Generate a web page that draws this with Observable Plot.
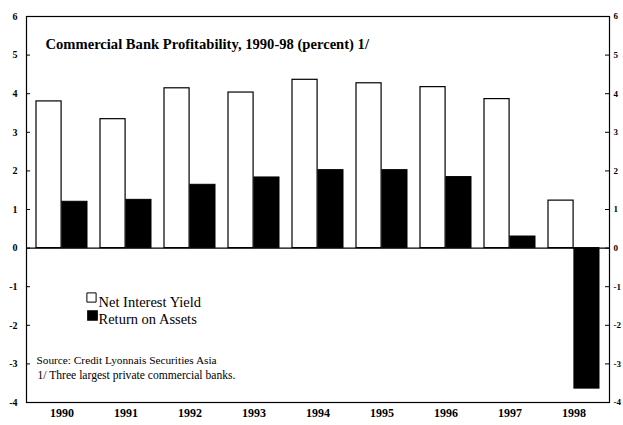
<!DOCTYPE html>
<html>
<head>
<meta charset="utf-8">
<script src="https://cdn.jsdelivr.net/npm/d3@7"></script>
<script src="https://cdn.jsdelivr.net/npm/@observablehq/plot@0.6"></script>
<style>
  html, body { margin: 0; padding: 0; background: white; overflow: hidden; }
</style>
</head>
<body>
<div id="chart"></div>
<script>
const years = ["1990", "1991", "1992", "1993", "1994", "1995", "1996", "1997", "1998"];
const netInterestYield = [3.8, 3.34, 4.14, 4.03, 4.36, 4.27, 4.17, 3.86, 1.23];
const returnOnAssets = [1.2, 1.25, 1.64, 1.83, 2.02, 2.02, 1.84, 0.3, -3.64];
const yTicks = [-4, -3, -2, -1, 0, 1, 2, 3, 4, 5, 6];
const seriesNames = ["Net Interest Yield", "Return on Assets"];
const titleText = "Commercial Bank Profitability, 1990-98 (percent) 1/";
const notes = ["Source: Credit Lyonnais Securities Asia", "1/ Three largest private commercial banks."];

const niy = years.map((year, i) => ({year, value: netInterestYield[i]}));
const roa = years.map((year, i) => ({year, value: returnOnAssets[i]}));

const font = "'Liberation Serif', 'Times New Roman', serif";
const mL = 26, mR = 14;
const plotW = 623 - mL - mR;
const half = plotW / 9 * 0.4;

const chart = Plot.plot({
  width: 623,
  height: 425,
  marginLeft: mL,
  marginRight: mR,
  marginTop: 16,
  marginBottom: 23,
  style: {fontFamily: font, background: "white", color: "black"},
  x: {domain: years, axis: null, paddingInner: 0.2, paddingOuter: 0.1},
  y: {domain: [-4, 6], axis: null},
  marks: [
    Plot.barY(niy, {x: "year", y: "value", fill: "white", stroke: "black", strokeWidth: 1.2, insetRight: half}),
    Plot.barY(roa, {x: "year", y: "value", fill: "black", stroke: "black", strokeWidth: 1, insetLeft: half}),
    Plot.ruleY([0], {stroke: "black", strokeWidth: 1.2}),
    Plot.frame({stroke: "black", strokeWidth: 1.2}),
    Plot.ruleY(yTicks, {y: d => d, insetRight: plotW - 4, stroke: "black"}),
    Plot.ruleY(yTicks, {y: d => d, insetLeft: plotW - 4, stroke: "black"}),
    Plot.text(yTicks, {y: d => d, text: d => String(d), frameAnchor: "left", dx: -9, textAnchor: "end", fontSize: 10, fontWeight: "bold"}),
    Plot.text(yTicks, {y: d => d, text: d => String(d), frameAnchor: "right", dx: 4, textAnchor: "start", fontSize: 9, fontWeight: "bold"}),
    Plot.text(years, {x: d => d, text: d => d, frameAnchor: "bottom", dy: 14, fontSize: 12, fontWeight: "bold"}),
    Plot.text([titleText], {text: d => d, frameAnchor: "top-left", dx: 19, dy: 22, textAnchor: "start", fontSize: 14.6, fontWeight: "bold"}),
    Plot.dot([seriesNames[0]], {frameAnchor: "top-left", dx: 65, dy: 281, symbol: "square", r: 5.2, fill: "white", stroke: "black", strokeWidth: 1}),
    Plot.dot([seriesNames[1]], {frameAnchor: "top-left", dx: 66, dy: 299, symbol: "square", r: 5.2, fill: "black", stroke: "black"}),
    Plot.text([seriesNames[0]], {text: d => d, frameAnchor: "top-left", dx: 72, dy: 280, textAnchor: "start", fontSize: 14.5}),
    Plot.text([seriesNames[1]], {text: d => d, frameAnchor: "top-left", dx: 72, dy: 297, textAnchor: "start", fontSize: 14.5}),
    Plot.text([notes[0]], {text: d => d, frameAnchor: "top-left", dx: 10, dy: 339, textAnchor: "start", fontSize: 11.3}),
    Plot.text([notes[1]], {text: d => d, frameAnchor: "top-left", dx: 11, dy: 354, textAnchor: "start", fontSize: 11.6})
  ]
});
document.getElementById("chart").appendChild(chart);
</script>
</body>
</html>
